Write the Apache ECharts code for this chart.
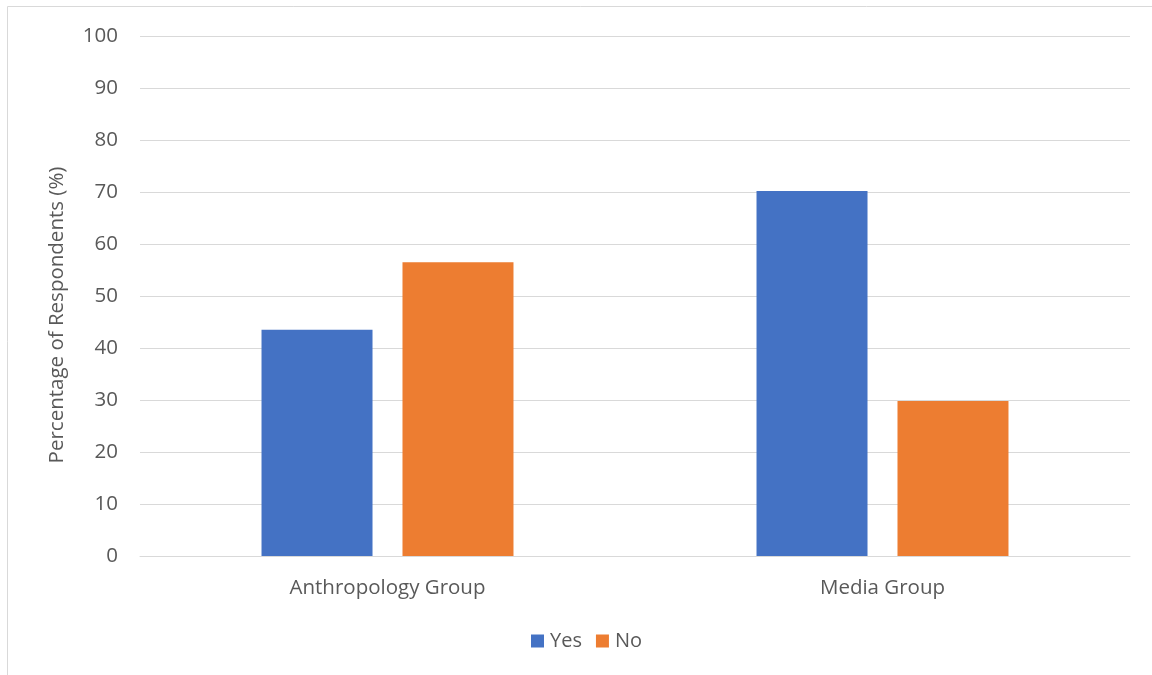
<!DOCTYPE html>
<html><head><meta charset="utf-8">
<script src="https://cdn.jsdelivr.net/npm/echarts@6/dist/echarts.min.js"></script>
<style>html,body{margin:0;padding:0;background:#fff}#c{width:1152px;height:675px}</style>
</head><body><div id="c"></div>
<script>
const categories = ["Anthropology Group", "Media Group"];
const yesValues = [43.5, 70.2];
const noValues = [56.5, 29.8];
const seriesNames = ["Yes", "No"];
const yAxisTitle = "Percentage of Respondents (%)";

const chart = echarts.init(document.getElementById('c'));
const font = "'Open Sans', sans-serif";
chart.setOption({
  animation: false,
  graphic: [{type:'rect', shape:{x:7.5,y:6.5,width:1200,height:700}, style:{fill:'none', stroke:'#d9d9d9', lineWidth:1}, silent:true}],
  grid: {left:140, right:22, top:36, bottom:119},
  legend: {bottom:19, left:526, itemWidth:13, itemHeight:13, itemGap:14, icon:'rect',
    textStyle:{fontFamily:font, fontSize:20, color:'#595959', padding:[0,0,0,1]}, data: seriesNames},
  xAxis: {type:'category', data:categories,
    axisLine:{lineStyle:{color:'#d9d9d9'}}, axisTick:{show:false},
    axisLabel:{fontFamily:font, fontSize:20.5, color:'#595959', margin:22}},
  yAxis: {type:'value', min:0, max:100, interval:10,
    name:yAxisTitle, nameLocation:'middle', nameGap:72, nameRotate:90,
    nameTextStyle:{fontFamily:font, fontSize:20.5, color:'#595959', padding:[0,38,0,0]},
    axisLine:{show:false}, axisTick:{show:false},
    axisLabel:{fontFamily:font, fontSize:20.5, color:'#595959', margin:22},
    splitLine:{lineStyle:{color:'#d9d9d9', width:1}}},
  series: [
    {name:seriesNames[0], type:'bar', data:yesValues, barWidth:111, barGap:'27%', itemStyle:{color:'#4472c4'}},
    {name:seriesNames[1], type:'bar', data:noValues, barWidth:111, barGap:'27%', itemStyle:{color:'#ed7d31'}}
  ]
});
</script></body></html>
